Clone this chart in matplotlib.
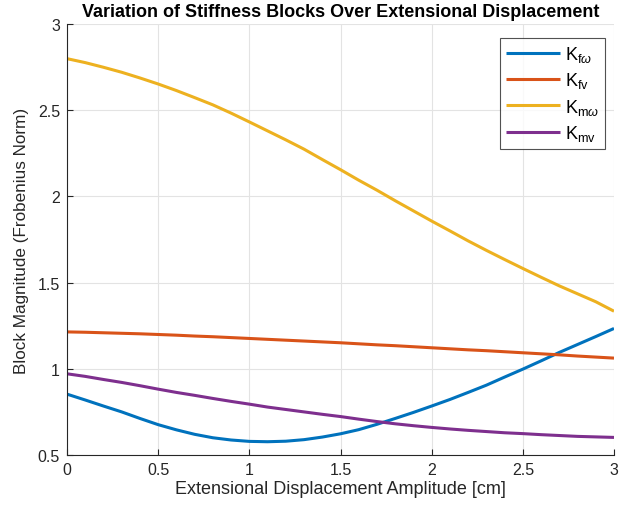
import matplotlib
matplotlib.use("Agg")
import matplotlib.pyplot as plt

plt.rcParams['font.family'] = ['Liberation Sans', 'DejaVu Sans']
plt.rcParams['mathtext.fontset'] = 'custom'
plt.rcParams['mathtext.rm'] = 'Liberation Sans'
plt.rcParams['mathtext.it'] = 'Liberation Sans:italic'

x = [0.0, 0.1, 0.2, 0.3, 0.4, 0.5, 0.6, 0.7, 0.8, 0.9, 1.0, 1.1, 1.2, 1.3, 1.4, 1.5,
     1.6, 1.7, 1.8, 1.9, 2.0, 2.1, 2.2, 2.3, 2.4, 2.5, 2.6, 2.7, 2.8, 2.9, 3.0]
K_fw = [0.853, 0.819, 0.784, 0.750, 0.712, 0.676, 0.646, 0.620, 0.600, 0.587, 0.579,
        0.577, 0.580, 0.589, 0.604, 0.623, 0.647, 0.678, 0.712, 0.747, 0.784, 0.822,
        0.863, 0.905, 0.952, 0.998, 1.046, 1.095, 1.141, 1.187, 1.234]
K_fv = [1.214, 1.212, 1.209, 1.206, 1.203, 1.199, 1.195, 1.190, 1.186, 1.181, 1.176,
        1.171, 1.166, 1.161, 1.156, 1.151, 1.145, 1.139, 1.134, 1.128, 1.122, 1.116,
        1.110, 1.105, 1.099, 1.093, 1.087, 1.081, 1.074, 1.068, 1.062]
K_mw = [2.799, 2.776, 2.749, 2.720, 2.687, 2.652, 2.614, 2.573, 2.531, 2.483, 2.432,
        2.380, 2.328, 2.274, 2.214, 2.155, 2.094, 2.036, 1.975, 1.916, 1.857, 1.800,
        1.742, 1.687, 1.634, 1.582, 1.531, 1.481, 1.435, 1.389, 1.334]
K_mv = [0.971, 0.956, 0.938, 0.921, 0.902, 0.882, 0.863, 0.846, 0.828, 0.811, 0.795,
        0.778, 0.764, 0.750, 0.736, 0.723, 0.708, 0.694, 0.681, 0.670, 0.660, 0.651,
        0.643, 0.636, 0.629, 0.624, 0.618, 0.613, 0.608, 0.605, 0.602]

labels = [r'K$_{\mathrm{f}\omega}$', r'K$_{\mathrm{fv}}$', r'K$_{\mathrm{m}\omega}$', r'K$_{\mathrm{mv}}$']
colors = ['#0072BD', '#D95319', '#EDB120', '#7E2F8E']
xticks = [0, 0.5, 1, 1.5, 2, 2.5, 3]
xticklabels = ['0', '0.5', '1', '1.5', '2', '2.5', '3']
yticks = [0.5, 1, 1.5, 2, 2.5, 3]
yticklabels = ['0.5', '1', '1.5', '2', '2.5', '3']

fig = plt.figure(figsize=(6.27, 5.10), dpi=100)
ax = fig.add_axes([67/627, 1 - 456/510, (614-67)/627, (456-25)/510])

for ys, lab, c in zip([K_fw, K_fv, K_mw, K_mv], labels, colors):
    ax.plot(x, ys, color=c, lw=2.2, label=lab, solid_capstyle='butt')

ax.set_xlim(0, 3)
ax.set_ylim(0.5, 3)
ax.set_xticks(xticks)
ax.set_xticklabels(xticklabels)
ax.set_yticks(yticks)
ax.set_yticklabels(yticklabels)
ax.grid(True, color='#e3e3e3', lw=0.8)
ax.set_axisbelow(True)
for s in ['top', 'right']:
    ax.spines[s].set_visible(False)
for s in ['left', 'bottom']:
    ax.spines[s].set_color('#262626')
    ax.spines[s].set_linewidth(0.8)
ax.tick_params(direction='in', length=4, width=0.8, colors='#262626', labelsize=11.5, pad=5)

ax.set_xlabel('Extensional Displacement Amplitude [cm]', fontsize=13, color='#262626', labelpad=2)
ax.set_ylabel('Block Magnitude (Frobenius Norm)', fontsize=12.3, color='#262626', labelpad=6)
ax.set_title('Variation of Stiffness Blocks Over Extensional Displacement', fontsize=13,
             fontweight='bold', color='black', pad=6)

leg = ax.legend(loc='upper right', bbox_to_anchor=(0.984, 0.968), fontsize=13, frameon=True,
                fancybox=False, edgecolor='#262626', handlelength=3.0, borderpad=0.35,
                labelspacing=0.35, handletextpad=0.25, borderaxespad=0)
leg.get_frame().set_linewidth(0.8)

fig.savefig('out.png', dpi=100)
